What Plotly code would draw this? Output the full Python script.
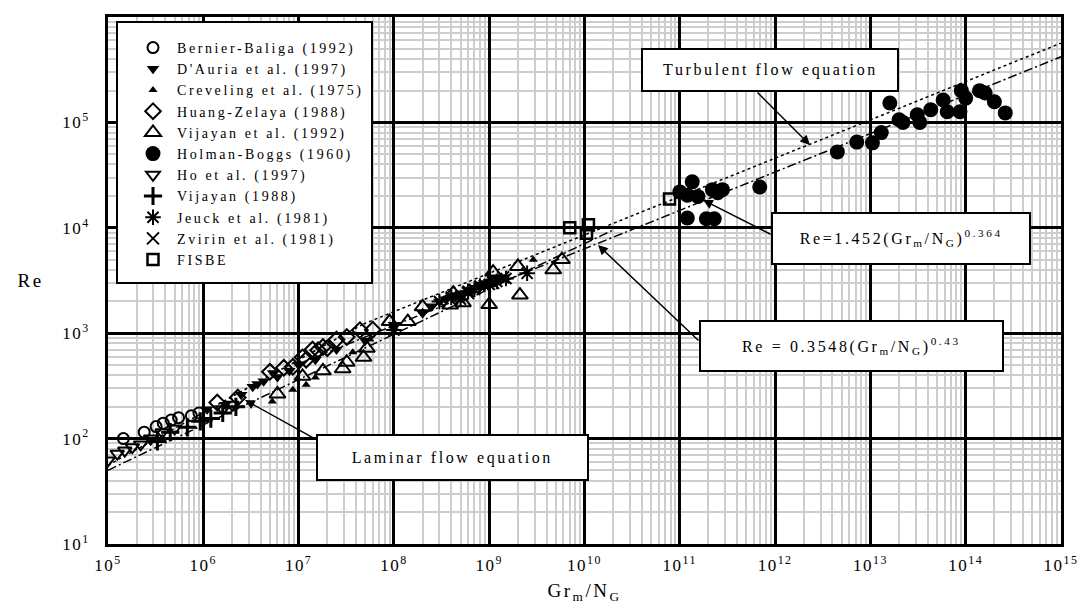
import plotly.graph_objects as go

# ---------------- data ----------------
bb_x = [1.45e5, 2.4e5, 3.2e5, 3.8e5, 4.6e5, 5.5e5, 7.5e5, 9e5]
bb_y = [100, 115, 130, 140, 150, 158, 165, 175]

dauria_x = [1.1e6, 1.7e6, 2.5e6, 3.3e6, 3.7e6, 4.3e6, 5.4e6, 6e6, 8e6, 1e7, 1.5e7, 2.5e7,
            5e7, 1e8, 2e8, 2.5e8, 3e8, 3.5e8, 4e8, 4.5e8, 5e8, 6e8, 6.5e8, 7e8, 8e8,
            8.5e8, 9e8, 1.05e9, 1.1e9, 1.2e9, 1.4e9]
dauria_y = [190, 210, 260, 310, 330, 350, 420, 385, 440, 500, 560, 700,
            850, 1200, 1550, 1800, 2000, 2100, 2250, 2300, 2400, 2550, 2600, 2700, 2850,
            2900, 3000, 3100, 3300, 3200, 3400]

crev_x = [5.3e6, 8.7e6, 1.2e7, 1.5e7, 3.7e7, 5.6e7, 1e8, 2e8, 3.3e8, 6e8, 1e9, 2.9e9]
crev_y = [225, 290, 325, 380, 660, 870, 1150, 1600, 2090, 2600, 3000, 4980]

hz_x = [1.4e6, 2.3e6, 5e6, 7e6, 8.7e6, 1.1e7, 1.2e7, 1.4e7, 1.6e7, 1.8e7, 2e7, 2.5e7,
        3.2e7, 4.4e7, 6e7]
hz_y = [220, 245, 430, 470, 480, 590, 560, 700, 690, 740, 720, 870, 920, 1070, 1080]

vij92_x = [6e6, 1.1e7, 1.8e7, 2.9e7, 3.2e7, 4.8e7, 5.2e7, 9e7, 1.4e8, 2e8, 3.9e8, 4.2e8,
           5.3e8, 1e9, 1.1e9, 2e9, 2.1e9, 4.7e9, 5.8e9]
vij92_y = [265, 390, 440, 460, 530, 590, 720, 1290, 1290, 1780, 1850, 2400,
           1950, 1870, 3800, 4300, 2300, 4000, 5000]

hb_x = [1.0e11, 1.2e11, 1.35e11, 1.55e11, 2.2e11, 2.5e11, 2.8e11, 6.9e11, 1.2e11, 1.9e11,
        2.3e11, 4.5e12, 7.2e12, 1.05e13, 1.3e13, 1.6e13, 2e13, 2.2e13, 3.1e13, 3.3e13,
        4.3e13, 5.8e13, 6.4e13, 8.7e13, 9e13, 1e14, 1.4e14, 1.6e14, 2e14, 2.6e14]
hb_y = [21900, 20400, 27300, 19800, 23000, 21500, 23000, 24400, 12400, 12200,
        12200, 52500, 65000, 64000, 80000, 153000, 106000, 100000, 118000, 100000,
        132000, 163000, 126000, 126000, 200000, 170000, 200000, 190000, 157000, 123000]

ho_x = [1.0e5, 1.25e5, 1.5e5, 1.8e5, 2.2e5, 2.8e5, 3.7e5, 5e5, 1.6e6, 2e6]
ho_y = [62, 72, 77, 83, 88, 100, 115, 125, 190, 210]

vij88_x = [3.3e5, 4.5e5, 6.8e5, 9.3e5, 1.2e6, 1.6e6, 2.2e6]
vij88_y = [94, 115, 128, 146, 155, 175, 200]

jeuck_x = [1e8, 3e8, 4e8, 5e8, 6e8, 7e8, 8e8, 1e9, 1.2e9, 1.5e9, 2.5e9]
jeuck_y = [1070, 2000, 2200, 2100, 2500, 2600, 2800, 2900, 3100, 3300, 3700]

zvirin_x = [6e8, 9e8, 1.1e9, 1.4e9]
zvirin_y = [2400, 2800, 3000, 3400]

fisbe_x = [7e9, 1.1e10, 1.05e10, 7.8e10]
fisbe_y = [1.0e4, 1.07e4, 8.9e3, 1.88e4]

# correlation lines (end points)
lam_x = [1e5, 4.79e7]
lam_y = [55.9, 1224]
turb_x = [4.79e7, 1e15]
turb_y = [1224, 5.65e5]
fit43_x = [1e5, 2e10]
fit43_y = [50.1, 9540]
fit364_x = [1e7, 1e15]
fit364_y = [511, 4.19e5]

x_tickvals = [1e5, 1e6, 1e7, 1e8, 1e9, 1e10, 1e11, 1e12, 1e13, 1e14, 1e15]
x_ticktext = ["10<sup>%d</sup>" % e for e in range(5, 16)]
y_tickvals = [1e1, 1e2, 1e3, 1e4, 1e5, 1e6]
y_ticktext = ["10<sup>%d</sup>" % e for e in range(1, 7)]

# ---------------- figure ----------------
FONT = "Liberation Serif"
OFF = 8                      # default page margin of the html body
W, H = 1087 - 2 * OFF, 612 - 2 * OFF
L, T = 100, 9
PW, PH = 953, 527
R, B = W - L - PW, H - T - PH


def fx(px):                  # page pixel -> paper fraction
    return (px - OFF - L) / PW


def fy(py):
    return 1 - (py - OFF - T) / PH


fig = go.Figure()

dot = dict(color="black", width=1.5, dash="3px,3px")
dashdot = dict(color="black", width=1.5, dash="9px,3px,2px,3px")
fig.add_trace(go.Scatter(x=lam_x, y=lam_y, mode="lines", showlegend=False, line=dot))
fig.add_trace(go.Scatter(x=turb_x, y=turb_y, mode="lines", showlegend=False, line=dot))
fig.add_trace(go.Scatter(x=fit43_x, y=fit43_y, mode="lines", showlegend=False, line=dashdot))
fig.add_trace(go.Scatter(x=fit364_x, y=fit364_y, mode="lines", showlegend=False, line=dashdot))

series = [
    ("Bernier-Baliga (1992)", bb_x, bb_y, "circle-open", 11, 2),
    ("D'Auria et al. (1997)", dauria_x, dauria_y, "triangle-down", 11, 0),
    ("Creveling et al. (1975)", crev_x, crev_y, "triangle-up", 8, 0),
    ("Huang-Zelaya (1988)", hz_x, hz_y, "diamond-open", 12, 2),
    ("Vijayan et al. (1992)", vij92_x, vij92_y, "triangle-up-open", 14, 2),
    ("Holman-Boggs (1960)", hb_x, hb_y, "circle", 15, 0),
    ("Ho et al. (1997)", ho_x, ho_y, "triangle-down-open", 12, 2),
    ("Vijayan (1988)", vij88_x, vij88_y, "cross-thin-open", 13, 3),
    ("Jeuck et al. (1981)", jeuck_x, jeuck_y, "asterisk-open", 13, 2),
    ("Zvirin et al. (1981)", zvirin_x, zvirin_y, "x-thin-open", 12, 2),
    ("FISBE", fisbe_x, fisbe_y, "square-open", 11, 2.5),
]
for name, xs, ys, sym, size, lw in series:
    fig.add_trace(go.Scatter(
        x=xs, y=ys, mode="markers", name=name,
        marker=dict(symbol=sym, size=size, color="black",
                    line=dict(color="black", width=lw))))

axis_common = dict(
    type="log", showline=True, mirror=True, linecolor="black", linewidth=3,
    showgrid=True, gridcolor="black", gridwidth=2.5, zeroline=False,
    automargin=False,
    ticks="", tickfont=dict(family=FONT, size=17, color="black"),
    minor=dict(dtick="D1", showgrid=True, gridcolor="#cdcdcd", gridwidth=1.6, ticks=""),
)

fig.update_xaxes(range=[5, 15], tickvals=x_tickvals, ticktext=x_ticktext,
                 ticklabelstandoff=4,
                 title=dict(text="Gr<sub>m</sub>/N<sub>G</sub>",
                            font=dict(family=FONT, size=19, color="black"), standoff=12),
                 **axis_common)
fig.update_yaxes(range=[1, 6], tickvals=y_tickvals, ticktext=y_ticktext,
                 ticklabelstandoff=12, **axis_common)

shapes = []
annotations = []


def box(x0, y0, x1, y1):
    shapes.append(dict(type="rect", xref="paper", yref="paper",
                       x0=fx(x0), x1=fx(x1), y0=fy(y1), y1=fy(y0),
                       line=dict(color="black", width=2), fillcolor="white",
                       layer="above"))


def text(px, py, s, size=16):
    annotations.append(dict(xref="paper", yref="paper", x=fx(px), y=fy(py), text=s,
                            showarrow=False, xanchor="center", yanchor="middle",
                            font=dict(family=FONT, size=size, color="black")))


def arrow(hx, hy, tx, ty):
    annotations.append(dict(xref="paper", yref="paper", x=fx(hx), y=fy(hy), text="",
                            showarrow=True, axref="pixel", ayref="pixel",
                            ax=tx - hx, ay=ty - hy, arrowhead=2, arrowsize=1.3,
                            arrowwidth=1.5, arrowcolor="black", standoff=0))


# legend box
box(117, 22, 372, 283)

# arrows
arrow(810, 145, 756, 91)
arrow(703, 200, 772, 235)
arrow(598, 245, 700, 342)
arrow(245, 400, 317, 440)

# text boxes
box(642, 49, 898, 91)
text(770, 70, "Turbulent flow equation")
box(772, 213, 1030, 264)
text(901, 238, "Re=1.452(Gr<sub>m</sub>/N<sub>G</sub>)<sup>0.364</sup>")
box(700, 321, 1003, 371)
text(851, 346, "Re = 0.3548(Gr<sub>m</sub>/N<sub>G</sub>)<sup>0.43</sup>")
box(317, 435, 588, 480)
text(452, 458, "Laminar flow equation")

# y-axis title (horizontal, as in the reference)
text(30, 280, "Re", size=19)

fig.update_layout(
    width=W, height=H, margin=dict(l=L, r=R, t=T, b=B, autoexpand=False),
    paper_bgcolor="white", plot_bgcolor="white",
    font=dict(family=FONT, color="black"),
    shapes=shapes, annotations=annotations,
    legend=dict(x=fx(129), y=fy(32), xanchor="left", yanchor="top",
                bgcolor="rgba(0,0,0,0)", borderwidth=0,
                font=dict(family=FONT, size=14, color="black"),
                itemwidth=38, tracegroupgap=0),
)

# wide letter spacing of the original typesetting; let legend text run past
# the width plotly measured without the spacing
post = ("var gd=document.getElementById('{plot_id}');"
        "gd.querySelectorAll('.legend, .legend [clip-path]').forEach(function(e){"
        "e.removeAttribute('clip-path'); e.style.clipPath='none';});"
        "gd.querySelectorAll('.legendtext').forEach(function(t){t.style.letterSpacing='2.6px';});"
        "gd.querySelectorAll('.annotation-text').forEach(function(t){t.style.letterSpacing='2.6px';});"
        "gd.querySelectorAll('.xtitle').forEach(function(t){t.style.letterSpacing='2.5px';});"
        "gd.querySelectorAll('.xtick text, .ytick text').forEach(function(t){t.style.letterSpacing='1.5px';});")

fig.write_html("out.html", post_script=post)
